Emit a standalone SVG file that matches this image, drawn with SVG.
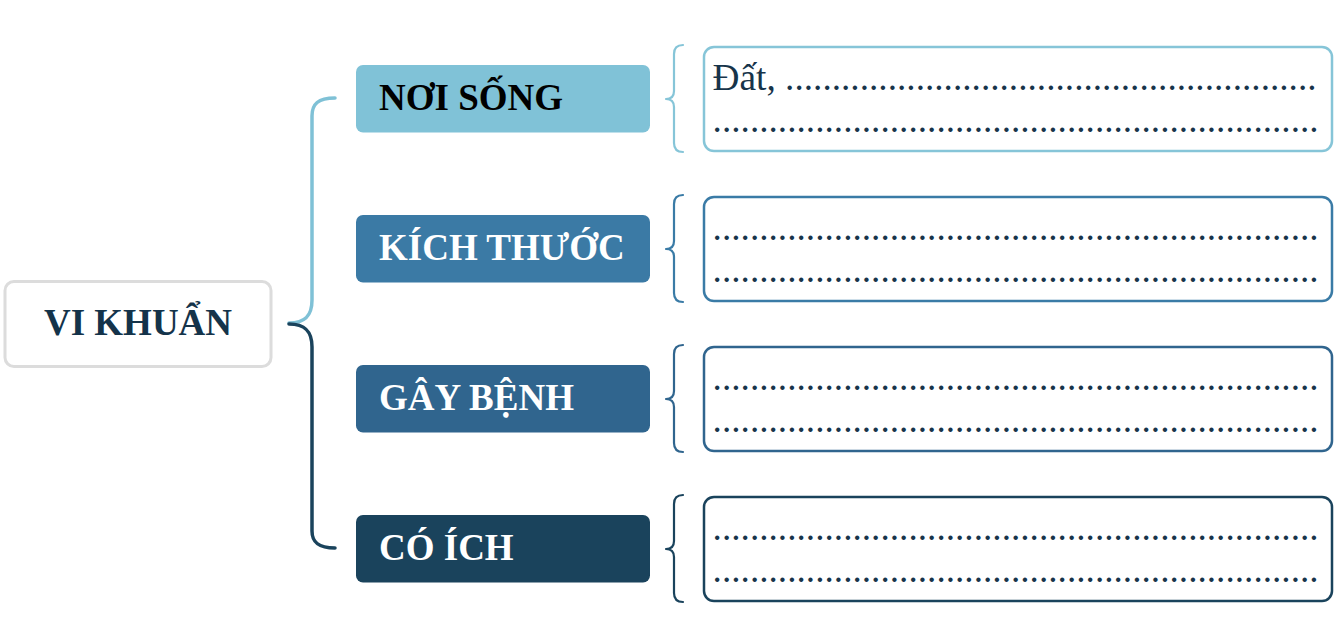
<svg xmlns="http://www.w3.org/2000/svg" width="1340" height="617" viewBox="0 0 1340 617">
<style>
.cat{font-family:"Liberation Serif","Times New Roman",serif;font-weight:bold;font-size:37px}
.ans{font-family:"Liberation Serif","Times New Roman",serif;font-size:37.3px;fill:#17344a}
.abox{fill:#ffffff;stroke-width:2.5}
.brace{fill:none;stroke-width:2.2;stroke-linecap:round;stroke-linejoin:round}
.conn{fill:none;stroke-width:3.5;stroke-linecap:round}
</style>
<rect width="1340" height="617" fill="#ffffff"/>
<g id="connectors">
<path class="conn" stroke="#7fc1d6" d="M289 323 C305 323 312 316 312 300 L312 116 C312 104 318 98 335 98"/>
<path class="conn" stroke="#1a435c" d="M289 324 C305 324 312 331 312 347 L312 531 C312 542 318 548 335 548"/>
<path class="brace" stroke="#86c5d8" d="M683 45 C677 45 674 48 674 54 L674 91 C674 96 671 99 666 99 C671 99 674 102 674 107 L674 143 C674 149 677 152 683 152"/>
<path class="brace" stroke="#3a7ba6" d="M683 195 C677 195 674 198 674 204 L674 241 C674 246 671 249 666 249 C671 249 674 252 674 257 L674 293 C674 299 677 302 683 302"/>
<path class="brace" stroke="#30658e" d="M683 345 C677 345 674 348 674 354 L674 391 C674 396 671 399 666 399 C671 399 674 402 674 407 L674 443 C674 449 677 452 683 452"/>
<path class="brace" stroke="#1a435c" d="M683 495 C677 495 674 498 674 504 L674 541 C674 546 671 549 666 549 C671 549 674 552 674 557 L674 593 C674 599 677 602 683 602"/>
</g>
<g id="root">
<rect x="5" y="281.5" width="266" height="85" rx="9" fill="#ffffff" stroke="#dcdcdc" stroke-width="3"/>
<text x="138" y="335" text-anchor="middle" class="cat" fill="#14334a">VI KHUẨN</text>
</g>
<g id="noi-song">
<rect x="356" y="65" width="294" height="67.5" rx="7" fill="#80c2d7"/>
<text x="379" y="110" class="cat" fill="#000000">NƠI SỐNG</text>
</g>
<g id="kich-thuoc">
<rect x="356" y="215" width="294" height="67.5" rx="7" fill="#3b7aa5"/>
<text x="379" y="260" class="cat" fill="#ffffff">KÍCH THƯỚC</text>
</g>
<g id="gay-benh">
<rect x="356" y="365" width="294" height="67.5" rx="7" fill="#30658e"/>
<text x="379" y="410" class="cat" fill="#ffffff">GÂY BỆNH</text>
</g>
<g id="co-ich">
<rect x="356" y="515" width="294" height="67.5" rx="7" fill="#1a435c"/>
<text x="379" y="560" class="cat" fill="#ffffff">CÓ ÍCH</text>
</g>
<g id="answer-noi-song">
<rect class="abox" x="704" y="47" width="628" height="104" rx="10" stroke="#86c5d8"/>
<text x="712.6" y="90" class="ans">Đất, .........................................................</text>
<text x="712.6" y="132" class="ans">.................................................................</text>
</g>
<g id="answer-kich-thuoc">
<rect class="abox" x="704" y="197" width="628" height="104" rx="10" stroke="#3a7ba6"/>
<text x="712.6" y="240" class="ans">.................................................................</text>
<text x="712.6" y="282" class="ans">.................................................................</text>
</g>
<g id="answer-gay-benh">
<rect class="abox" x="704" y="347" width="628" height="104" rx="10" stroke="#30658e"/>
<text x="712.6" y="390" class="ans">.................................................................</text>
<text x="712.6" y="432" class="ans">.................................................................</text>
</g>
<g id="answer-co-ich">
<rect class="abox" x="704" y="497" width="628" height="104" rx="10" stroke="#1a435c"/>
<text x="712.6" y="540" class="ans">.................................................................</text>
<text x="712.6" y="582" class="ans">.................................................................</text>
</g>
</svg>
